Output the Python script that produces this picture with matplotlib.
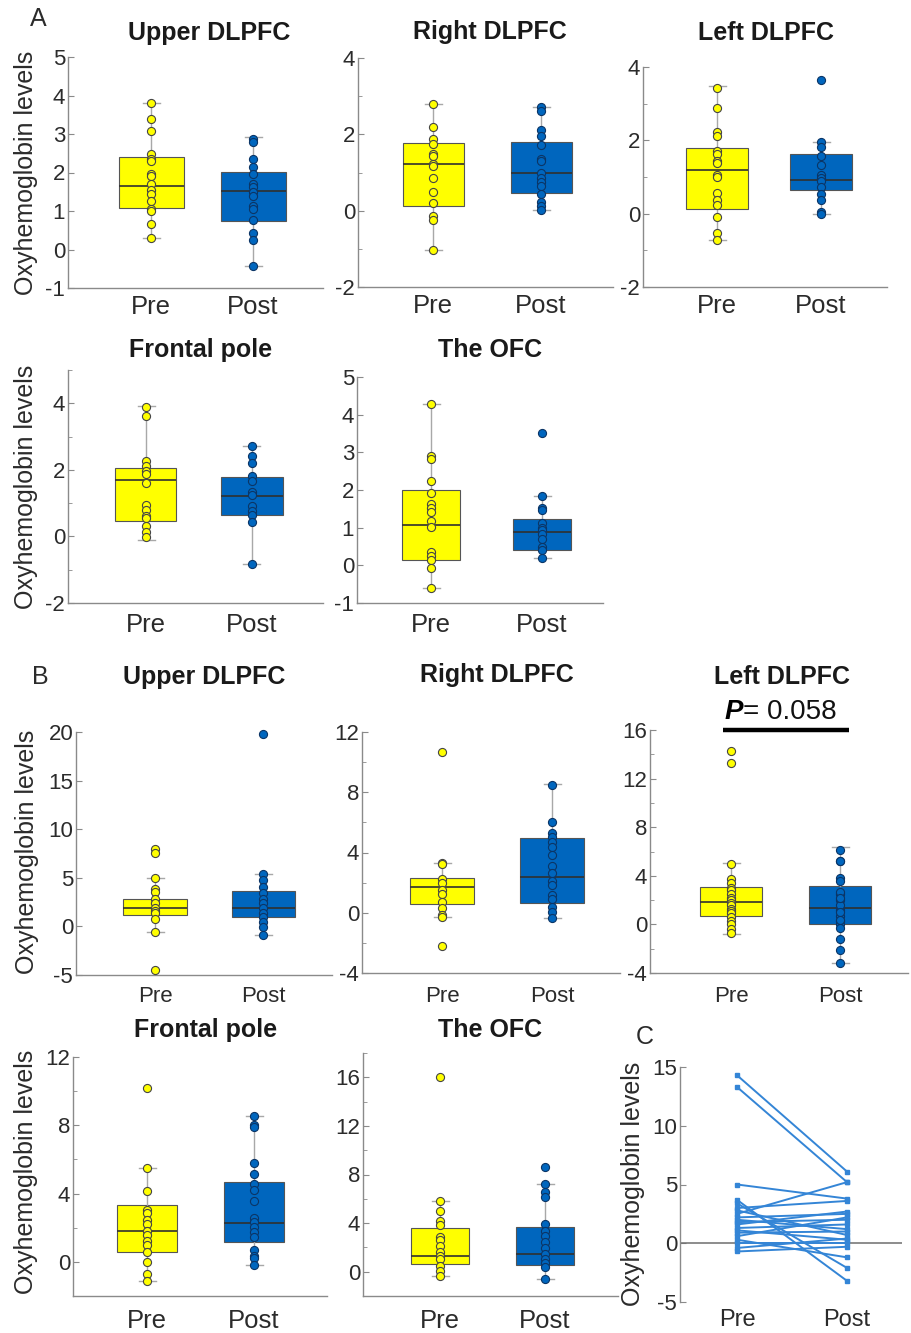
import numpy as np
import matplotlib
matplotlib.use('Agg')
import matplotlib.pyplot as plt

plt.rcParams['font.family'] = ['Liberation Sans', 'DejaVu Sans']
plt.rcParams['axes.unicode_minus'] = False

W, H = 911, 1333
YELLOW = '#FFFF00'
BLUE = '#0066BE'
PAIR_BLUE = '#3485D6'
AXIS_C = '#8a8a8a'
TXT = '#2b2b2b'

GROUPS = ['Pre', 'Post']
YLABEL = 'Oxyhemoglobin levels'

# box stats: [lower whisker, q1, median, q3, upper whisker]
# ---- A: Upper DLPFC
A_UPPER_PRE_BOX = [0.29, 1.08, 1.66, 2.41, 3.81]
A_UPPER_POST_BOX = [-0.43, 0.73, 1.51, 2.02, 2.91]
A_UPPER_PRE = [3.81, 3.39, 3.09, 2.49, 2.35, 2.30, 1.97, 1.90, 1.71, 1.54,
               1.45, 1.26, 1.06, 1.00, 0.67, 0.29]
A_UPPER_POST = [2.88, 2.80, 2.35, 2.15, 1.97, 1.70, 1.62, 1.50, 1.38, 1.12,
                1.05, 0.76, 0.42, 0.25, -0.43]
# ---- A: Right DLPFC
A_RIGHT_PRE_BOX = [-1.04, 0.11, 1.21, 1.77, 2.80]
A_RIGHT_POST_BOX = [0.03, 0.46, 0.99, 1.79, 2.72]
A_RIGHT_PRE = [2.80, 2.19, 1.88, 1.75, 1.49, 1.42, 1.23, 1.16, 0.86, 0.48,
               0.20, -0.13, -0.25, -1.04]
A_RIGHT_POST = [2.72, 2.62, 2.12, 1.96, 1.71, 1.35, 1.29, 1.00, 0.86, 0.74,
                0.64, 0.44, 0.24, 0.11, 0.03]
# ---- A: Left DLPFC
A_LEFT_PRE_BOX = [-0.73, 0.14, 1.20, 1.79, 3.47]
A_LEFT_POST_BOX = [0.00, 0.64, 0.93, 1.64, 1.95]
A_LEFT_PRE = [3.43, 2.88, 2.23, 2.11, 1.71, 1.62, 1.45, 1.38, 1.05, 1.00,
              0.56, 0.38, 0.25, -0.09, -0.53, -0.73]
A_LEFT_POST = [3.65, 1.95, 1.82, 1.58, 1.32, 1.05, 0.98, 0.90, 0.72, 0.55,
               0.38, 0.05, 0.00]
# ---- A: Frontal pole
A_FRONT_PRE_BOX = [-0.10, 0.45, 1.70, 2.05, 3.91]
A_FRONT_POST_BOX = [-0.83, 0.65, 1.22, 1.79, 2.73]
A_FRONT_PRE = [3.89, 3.62, 2.27, 2.12, 1.97, 1.87, 1.62, 0.95, 0.79, 0.62,
               0.55, 0.32, 0.12, -0.03]
A_FRONT_POST = [2.73, 2.42, 2.22, 1.82, 1.67, 1.32, 1.25, 0.92, 0.77, 0.65,
                0.42, -0.83]
# ---- A: OFC
A_OFC_PRE_BOX = [-0.59, 0.15, 1.08, 1.99, 4.27]
A_OFC_POST_BOX = [0.19, 0.40, 0.89, 1.22, 1.84]
A_OFC_PRE = [4.27, 2.89, 2.83, 2.24, 1.92, 1.62, 1.53, 1.42, 1.18, 1.02,
             0.35, 0.24, 0.15, -0.06, -0.59]
A_OFC_POST = [3.51, 1.84, 1.53, 1.46, 1.12, 1.00, 0.93, 0.82, 0.71, 0.49,
              0.40, 0.19]
# ---- B: Upper DLPFC
B_UPPER_PRE_BOX = [-0.58, 1.13, 1.85, 2.84, 5.03]
B_UPPER_POST_BOX = [-0.86, 0.99, 1.85, 3.66, 5.34]
B_UPPER_PRE = [8.01, 7.57, 5.03, 3.87, 3.56, 2.77, 2.36, 1.85, 1.61, 1.34,
               0.72, -0.58, -4.49]
B_UPPER_POST = [19.76, 5.34, 4.76, 4.08, 3.39, 2.84, 2.36, 1.85, 1.40, 0.92,
                0.45, -0.03, -0.86]
# ---- B: Right DLPFC
B_RIGHT_PRE_BOX = [-0.30, 0.59, 1.69, 2.29, 3.32]
B_RIGHT_POST_BOX = [-0.36, 0.68, 2.40, 4.94, 8.53]
B_RIGHT_PRE = [10.68, 3.32, 3.24, 2.22, 2.00, 1.51, 1.25, 0.74, 0.30, -0.14,
               -0.30, -2.24]
B_RIGHT_POST = [8.47, 6.04, 5.31, 5.05, 4.72, 4.34, 3.83, 3.10, 2.62, 2.13,
                1.85, 1.19, 0.90, 0.41, 0.08, -0.36]
# ---- B: Left DLPFC (paired subjects, also used in C)
B_LEFT_PRE_BOX = [-0.77, 0.66, 1.81, 3.07, 5.04]
B_LEFT_POST_BOX = [-3.18, 0.05, 1.34, 3.18, 6.36]
B_LEFT_PRE = [14.3, 13.3, 5.0, 3.7, 3.4, 3.0, 2.8, 2.5, 2.2, 2.0,
              1.8, 1.6, 1.3, 1.1, 0.9, 0.6, 0.3, 0.0, -0.4, -0.7]
B_LEFT_POST = [6.1, 5.2, 3.8, -3.2, -2.1, 3.6, 0.7, 5.2, 2.5, 1.2,
               2.0, 2.7, 1.6, 0.3, 1.0, 2.2, -1.2, 0.0, 0.4, -0.3]
P_TEXT = '= 0.058'
# ---- B: Frontal pole
B_FRONT_PRE_BOX = [-1.14, 0.59, 1.81, 3.31, 5.51]
B_FRONT_POST_BOX = [-0.20, 1.14, 2.26, 4.69, 8.56]
B_FRONT_PRE = [10.2, 5.47, 4.17, 3.05, 2.85, 2.46, 2.20, 1.81, 1.57, 1.22,
               0.98, 0.59, 0.00, -0.69, -1.14]
B_FRONT_POST = [8.56, 8.03, 7.91, 5.81, 5.16, 4.57, 4.23, 3.54, 2.56, 2.36,
                2.07, 1.77, 1.48, 0.69, 0.35, 0.20, -0.20]
# ---- B: OFC
B_OFC_PRE_BOX = [-0.38, 0.63, 1.26, 3.57, 5.85]
B_OFC_POST_BOX = [-0.60, 0.55, 1.45, 3.70, 7.22]
B_OFC_PRE = [16.0, 5.85, 5.02, 4.20, 3.84, 2.83, 2.63, 2.14, 1.59, 1.32,
             1.04, 0.49, 0.08, -0.38]
B_OFC_POST = [8.59, 7.22, 6.59, 6.12, 3.92, 3.38, 2.91, 2.41, 1.92, 1.45,
              1.04, 0.71, 0.36, -0.60]

fig = plt.figure(figsize=(W / 100, H / 100), dpi=100)
fig.patch.set_facecolor('white')


def px_axes(l, t, r, b):
    return fig.add_axes([l / W, 1 - b / H, (r - l) / W, (b - t) / H])


def ftext(x, y, s, **kw):
    fig.text(x / W, 1 - y / H, s, **kw)


def style_axes(ax, major, minor, xfs, xpad):
    for s in ('top', 'right'):
        ax.spines[s].set_visible(False)
    for s in ('left', 'bottom'):
        ax.spines[s].set_color(AXIS_C)
        ax.spines[s].set_linewidth(1.0)
    ax.set_yticks(major)
    ax.set_yticks(minor, minor=True)
    ax.tick_params(axis='y', which='major', direction='in', length=4,
                   color=AXIS_C, labelsize=16, labelcolor=TXT, pad=2)
    ax.tick_params(axis='y', which='minor', direction='in', length=3,
                   color=AXIS_C)
    ax.set_xticks([1, 2], GROUPS)
    ax.tick_params(axis='x', length=0, labelsize=xfs, labelcolor=TXT,
                   pad=xpad)


def box_panel(rect, cx, ylim, major, minor, pre_box, post_box, pre_pts,
              post_pts, box_px=62, xfs=18.5, xpad=6):
    l, t, r, b = rect
    ax = px_axes(l, t, r, b)
    unit = cx[1] - cx[0]
    ax.set_xlim(1 - (cx[0] - l) / unit, 2 + (r - cx[1]) / unit)
    ax.set_ylim(ylim)
    stats = [dict(whislo=s[0], q1=s[1], med=s[2], q3=s[3], whishi=s[4],
                  fliers=[]) for s in (pre_box, post_box)]
    bp = ax.bxp(stats, positions=[1, 2], widths=box_px / unit,
                capwidths=17 / unit, patch_artist=True, showfliers=False,
                medianprops=dict(color='#303030', lw=1.2),
                whiskerprops=dict(color='#a8a8a8', lw=1.0),
                capprops=dict(color='#a8a8a8', lw=1.0))
    for patch, col in zip(bp['boxes'], [YELLOW, BLUE]):
        patch.set_facecolor(col)
        patch.set_edgecolor('#555555')
        patch.set_linewidth(0.8)
    ax.scatter(np.ones(len(pre_pts)), pre_pts, s=34, facecolor=YELLOW,
               edgecolor='#454545', lw=0.8, zorder=4, clip_on=False)
    ax.scatter(np.full(len(post_pts), 2), post_pts, s=34, facecolor=BLUE,
               edgecolor='#0b3566', lw=0.8, zorder=4, clip_on=False)
    style_axes(ax, major, minor, xfs, xpad)
    return ax


def title(x, y, s):
    ftext(x, y, s, ha='center', va='center', fontsize=18, weight='bold',
          color='#1a1a1a')


def ylab(x, y):
    ftext(x, y, YLABEL, ha='center', va='center', rotation=90, fontsize=18,
          color=TXT)


# ================= A =================
ftext(38, 19, 'A', ha='center', va='center', fontsize=18, color=TXT)

box_panel((68, 57, 323, 288), (151, 253), (-1, 5), range(-1, 6), [],
          A_UPPER_PRE_BOX, A_UPPER_POST_BOX, A_UPPER_PRE, A_UPPER_POST,
          box_px=65, xpad=5)
title(209, 33, 'Upper DLPFC')
ylab(26, 173)

box_panel((358, 58, 613, 287), (433, 541), (-2, 4), [-2, 0, 2, 4],
          [-1, 1, 3], A_RIGHT_PRE_BOX, A_RIGHT_POST_BOX, A_RIGHT_PRE,
          A_RIGHT_POST, box_px=61, xpad=5)
title(490, 32, 'Right DLPFC')

box_panel((643, 67, 887, 287), (717, 821), (-2, 4), [-2, 0, 2, 4],
          [-1, 1, 3], A_LEFT_PRE_BOX, A_LEFT_POST_BOX, A_LEFT_PRE,
          A_LEFT_POST, box_px=62, xpad=5)
title(766, 33, 'Left DLPFC')

box_panel((68, 370, 323, 603), (146, 252), (-2, 5), [-2, 0, 2, 4],
          [-1, 1, 3, 5], A_FRONT_PRE_BOX, A_FRONT_POST_BOX, A_FRONT_PRE,
          A_FRONT_POST, box_px=61, xpad=7)
title(201, 350, 'Frontal pole')
ylab(26, 487)

box_panel((357, 377, 603, 603), (431, 542), (-1, 5), range(-1, 6), [],
          A_OFC_PRE_BOX, A_OFC_POST_BOX, A_OFC_PRE, A_OFC_POST,
          box_px=58, xpad=7)
title(490, 350, 'The OFC')

# ================= B =================
ftext(40, 677, 'B', ha='center', va='center', fontsize=18, color=TXT)

box_panel((76, 732, 332, 975), (155, 263), (-5, 20), range(-5, 21, 5), [],
          B_UPPER_PRE_BOX, B_UPPER_POST_BOX, B_UPPER_PRE, B_UPPER_POST,
          box_px=63, xfs=16, xpad=8)
title(204, 677, 'Upper DLPFC')
ylab(27, 852)

box_panel((362, 732, 620, 973), (442, 552), (-4, 12), range(-4, 13, 4),
          range(-2, 11, 4), B_RIGHT_PRE_BOX, B_RIGHT_POST_BOX, B_RIGHT_PRE,
          B_RIGHT_POST, box_px=64, xfs=16, xpad=9)
title(497, 675, 'Right DLPFC')

ax_bl = box_panel((650, 730, 908, 973), (731, 840), (-4, 16),
                  range(-4, 17, 4), range(-2, 15, 4), B_LEFT_PRE_BOX,
                  B_LEFT_POST_BOX, B_LEFT_PRE, B_LEFT_POST, box_px=62,
                  xfs=16, xpad=9)
title(782, 677, 'Left DLPFC')
ax_bl.plot([0.93, 2.08], [16, 16], color='black', lw=3.2, clip_on=False,
           solid_capstyle='butt')
ftext(725, 712, 'P', ha='left', va='center', fontsize=20, weight='bold',
      style='italic', color='black')
ftext(743, 712, P_TEXT, ha='left', va='center', fontsize=20, color='#111111')

box_panel((73, 1057, 327, 1296), (147, 254), (-2, 12), [0, 4, 8, 12],
          [-2, 2, 6, 10], B_FRONT_PRE_BOX, B_FRONT_POST_BOX, B_FRONT_PRE,
          B_FRONT_POST, box_px=60, xpad=9)
title(206, 1030, 'Frontal pole')
ylab(26, 1172)

box_panel((363, 1053, 618, 1296), (440, 545), (-2, 18), [0, 4, 8, 12, 16],
          [-2, 2, 6, 10, 14, 18], B_OFC_PRE_BOX, B_OFC_POST_BOX, B_OFC_PRE,
          B_OFC_POST, box_px=58, xpad=9)
title(490, 1030, 'The OFC')

# ================= C =================
ftext(645, 1037, 'C', ha='center', va='center', fontsize=18, color=TXT)
axc = px_axes(680, 1067, 902, 1302)
unit = 847 - 737
axc.set_xlim(1 - (737 - 680) / unit, 2 + (902 - 847) / unit)
axc.set_ylim(-5, 15)
for pre, post in zip(B_LEFT_PRE, B_LEFT_POST):
    axc.plot([1, 2], [pre, post], '-s', color=PAIR_BLUE, lw=1.4, ms=3,
             zorder=3)
axc.axhline(0, color='#6e6e6e', lw=1.1, zorder=2)
style_axes(axc, range(-5, 16, 5), [], 17, 5)
axc.spines['bottom'].set_visible(False)
ylab(633, 1184)

fig.savefig('out.png', dpi=100, facecolor='white')
